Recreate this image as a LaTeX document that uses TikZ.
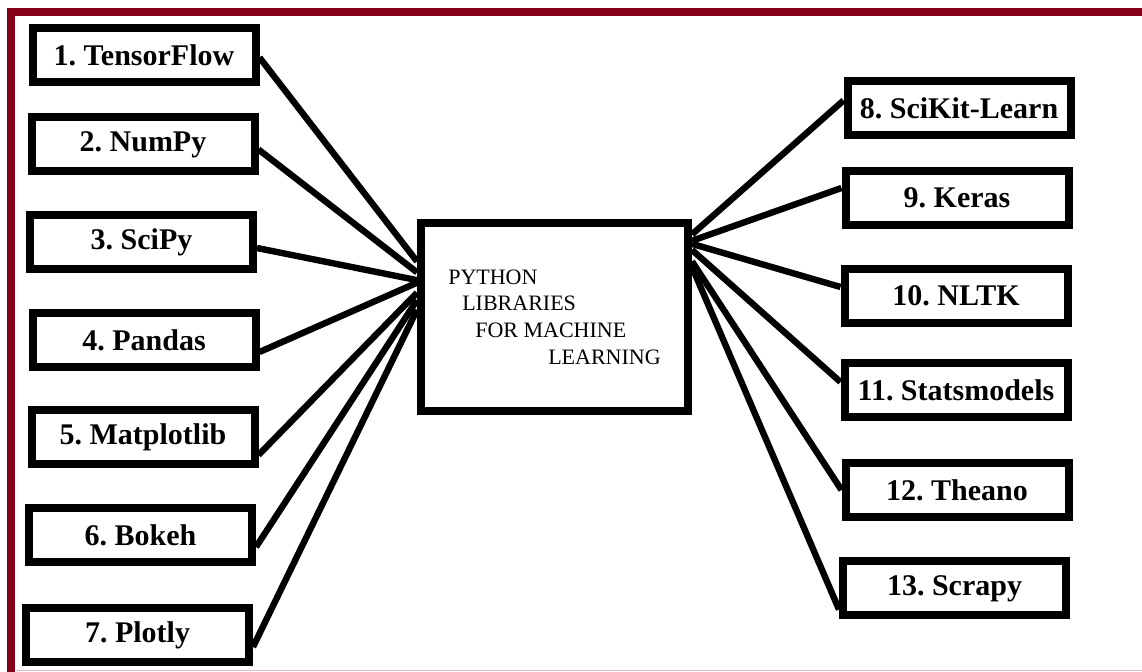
\documentclass[tikz,border=0pt]{standalone}
\usepackage{fontspec}
\setmainfont{Liberation Serif}
\usetikzlibrary{calc}
\definecolor{framered}{RGB}{133,0,26}

\begin{document}
\frenchspacing
\begin{tikzpicture}[x=0.5pt, y=-0.5pt,
  lib/.style={draw, line width=4pt, minimum width=111.5pt, minimum height=27pt, inner sep=0pt, font=\fontsize{15}{18}\selectfont\bfseries},
  hub/.style={draw, line width=4pt, minimum width=133.5pt, minimum height=94pt, inner sep=0pt, align=left, font=\fontsize{11}{13.3}\selectfont}]

\useasboundingbox (0,0) rectangle (1142,672);

\draw [framered, line width=4pt] (1142,12) -- (11,12) -- (11,672);
\draw [framered!25, line width=0.6pt] (15,670.5) -- (1142,670.5);

\node [hub] (ml) at (554.5,317) {PYTHON\\\hspace*{7pt}LIBRARIES\\\hspace*{13.5pt}FOR MACHINE\\\hspace*{50pt}LEARNING};

\node [lib] (tf) at (144,55.5) {1. TensorFlow};
\node [lib] (np) at (143,144.5) {2. NumPy};
\node [lib] (sp) at (141.5,242) {3. SciPy};
\node [lib] (pd) at (144,340) {4. Pandas};
\node [lib] (mpl) at (143,437) {5. Matplotlib};
\node [lib] (bk) at (140.5,535) {6. Bokeh};
\node [lib] (pl) at (137.5,635) {7. Plotly};

\node [lib] (skl) at (959,108.5) {8. SciKit-Learn};
\node [lib] (ks) at (957,198) {9. Keras};
\node [lib] (nl) at (956,296) {10. NLTK};
\node [lib] (sm) at (956,390) {11. Statsmodels};
\node [lib] (th) at (957,490) {12. Theano};
\node [lib] (sc) at (954.5,588.5) {13. Scrapy};

\begin{scope}[line width=3.2pt]
\draw ($(tf.east)+(0,2)$) -- (ml.158);
\draw ($(np.east)+(0,5)$) -- (ml.162);
\draw ($(sp.east)+(0,6)$) -- (ml.165);
\draw ($(pd.east)+(0,12)$) -- (ml.166);
\draw ($(mpl.east)+(0,18)$) -- (ml.170);
\draw ($(bk.east)+(0,12)$) -- (ml.173);
\draw ($(pl.east)+(0,12)$) -- (ml.177);
\end{scope}

\begin{scope}[line width=3.2pt]
\draw (ml.31) -- ($(skl.west)+(0,-8)$);
\draw (ml.29) -- ($(ks.west)+(0,-10)$);
\draw (ml.28) -- ($(nl.west)+(0,-9)$);
\draw (ml.26) -- ($(sm.west)+(0,-8)$);
\draw (ml.22) -- (th.west);
\draw (ml.20) -- ($(sc.west)+(0,21)$);
\end{scope}

\end{tikzpicture}
\end{document}
